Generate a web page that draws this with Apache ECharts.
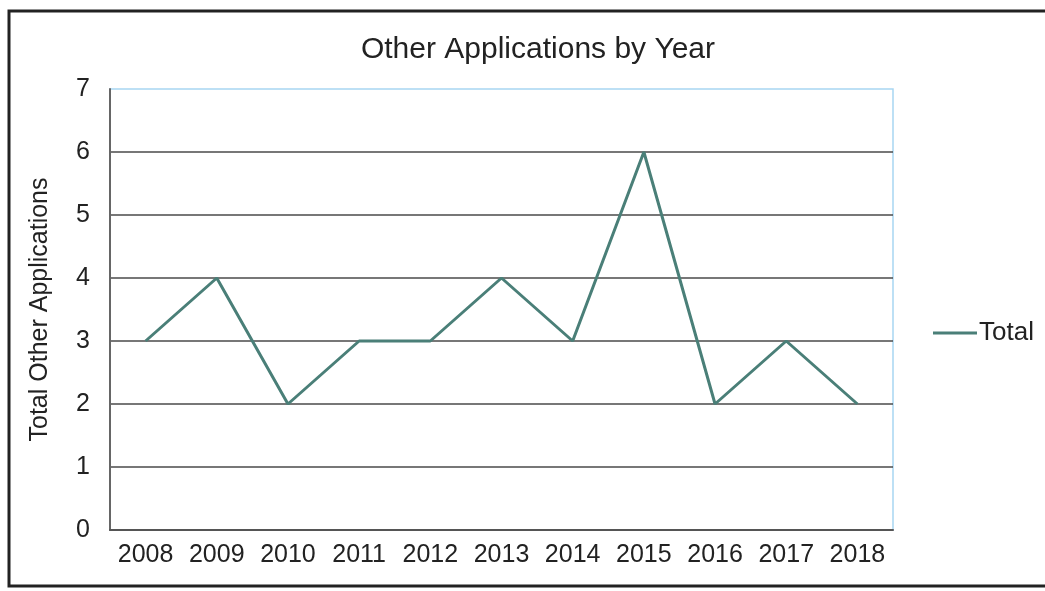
<!DOCTYPE html>
<html>
<head>
<meta charset="utf-8">
<script src="https://cdn.jsdelivr.net/npm/echarts@6/dist/echarts.min.js"></script>
<style>
html,body{margin:0;padding:0;background:#fff;}
#chart{width:1045px;height:591px;}
</style>
</head>
<body>
<div id="chart"></div>
<script>
const years = ['2008','2009','2010','2011','2012','2013','2014','2015','2016','2017','2018'];
const totals = [3, 4, 2, 3, 3, 4, 3, 6, 2, 3, 2];
const seriesName = 'Total';
const chartTitle = 'Other Applications by Year';
const yAxisTitle = 'Total Other Applications';

const FONT = '"Liberation Sans", Arial, sans-serif';
const chart = echarts.init(document.getElementById('chart'), null, {renderer: 'canvas'});
chart.setOption({
  animation: false,
  backgroundColor: '#ffffff',
  textStyle: {fontFamily: FONT},
  title: {
    text: chartTitle,
    left: 533,
    textAlign: 'center',
    top: 30,
    textStyle: {fontFamily: FONT, fontSize: 30, fontWeight: 'normal', color: '#222'}
  },
  legend: {
    data: [seriesName],
    left: 928,
    top: 315,
    itemWidth: 44,
    itemHeight: 3,
    itemGap: 3,
    icon: 'rect',
    textStyle: {fontFamily: FONT, fontSize: 26, color: '#222', padding: [0,0,0,-3]}
  },
  graphic: [{
    type: 'rect',
    shape: {x: 9, y: 11, width: 1080, height: 575},
    style: {fill: 'none', stroke: '#222', lineWidth: 3},
    silent: true,
    z: 100
  }],
  grid: {
    left: 110, right: 152, top: 89, bottom: 61,
    show: true,
    borderColor: '#a8d6f2',
    borderWidth: 1.5
  },
  xAxis: {
    type: 'category',
    data: years,
    boundaryGap: true,
    axisLine: {show: true, lineStyle: {color: '#555', width: 2}},
    axisTick: {show: false},
    axisLabel: {fontFamily: FONT, fontSize: 25, color: '#222', margin: 13, interval: 0, hideOverlap: false}
  },
  yAxis: {
    type: 'value',
    min: 0, max: 7, interval: 1,
    name: yAxisTitle,
    nameLocation: 'middle',
    nameGap: 57,
    nameTextStyle: {fontFamily: FONT, fontSize: 25, color: '#222'},
    axisLine: {show: true, lineStyle: {color: '#666', width: 2}},
    axisTick: {show: false},
    axisLabel: {fontFamily: FONT, fontSize: 25, color: '#222', margin: 20},
    splitLine: {show: true, showMinLine: false, showMaxLine: false, lineStyle: {color: '#4a4a4a', width: 1.5}}
  },
  series: [{
    name: seriesName,
    type: 'line',
    data: totals,
    symbol: 'none',
    lineStyle: {color: '#4a7f78', width: 3},
    itemStyle: {color: '#4a7f78'}
  }]
});
</script>
</body>
</html>
